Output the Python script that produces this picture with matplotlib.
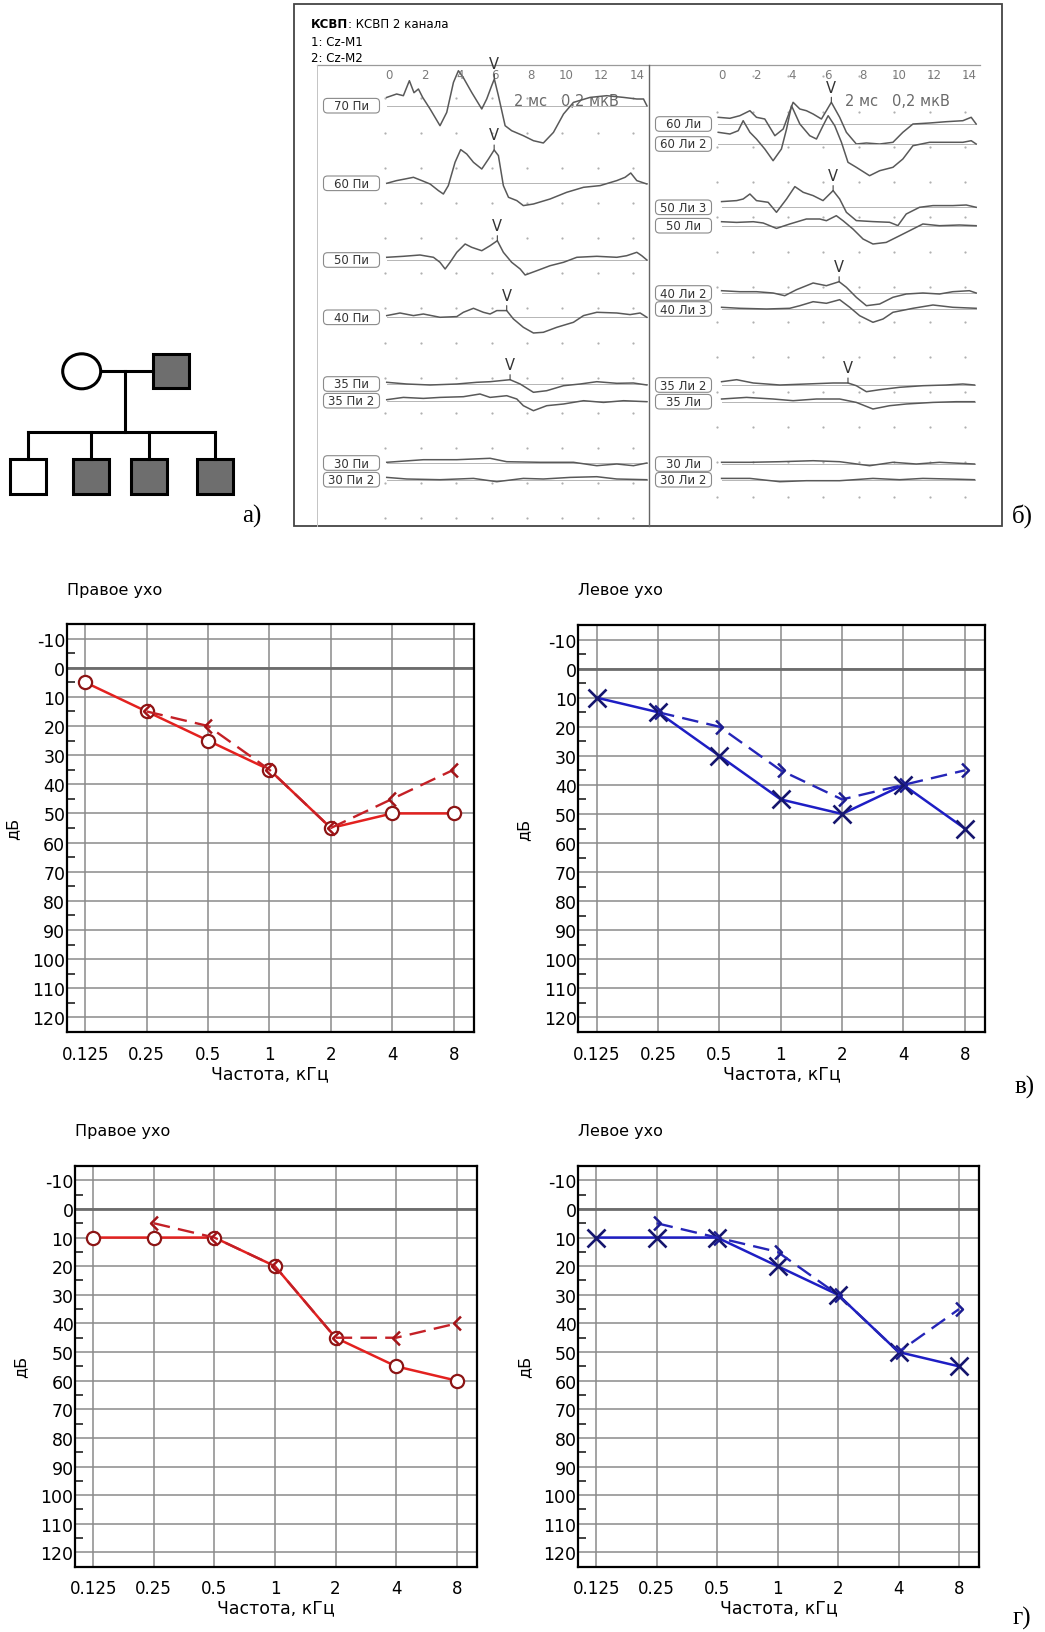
import numpy as np
import matplotlib
matplotlib.use("Agg")
import matplotlib.pyplot as plt
from matplotlib.patches import Rectangle, Ellipse, FancyBboxPatch
from matplotlib.path import Path

plt.rcParams['font.family'] = ['DejaVu Sans']

# ---------- данные: родословная ----------
father_affected = True
mother_affected = False
children_affected = [False, True, True, True]

# ---------- данные: КСВП (время, мс; амплитуда, усл. ед.) ----------
tr_70_pi = [(-0.13, 8.3), (0.43, 11.7), (0.81, 10), (1.15, 25), (1.41, 13), (1.66, 16.7), (1.90, 8.3),
            (2.32, -3.3), (2.88, -20), (3.26, -6.7), (3.64, 23.3), (3.92, 35), (4.20, 28), (4.67, 13.3),
            (5.24, -3.3), (5.52, 6.7), (5.80, 20), (5.95, 26.7), (6.18, 10), (6.56, -20), (6.93, -25),
            (7.59, -30), (8.16, -35), (8.72, -37.3), (9.29, -26.7), (9.86, -8.3), (10.42, 3.3),
            (11.36, 8.3), (12.30, 10), (13.25, 8.3), (14.0, 6.7), (14.38, 6.7), (14.57, 0)]
tr_60_pi = [(-0.13, 0), (0.43, 2.7), (0.90, 4.3), (1.38, 6), (1.85, 2.7), (2.32, -0.7), (2.79, -7.3),
            (3.07, -10.7), (3.35, -2.3), (3.73, 21), (4.05, 33.7), (4.39, 29.3), (4.77, 21), (5.24, 14.3),
            (5.62, 24.3), (5.94, 33.3), (6.18, 27.7), (6.46, -2.3), (6.75, -14), (7.22, -17.3),
            (7.59, -22.3), (8.16, -20.7), (9.10, -15.7), (10.04, -9), (10.99, -4), (11.93, -2.3),
            (12.87, 2.7), (13.34, 6), (13.66, 10.3), (14.0, 2.7), (14.57, -0.7)]
tr_50_pi = [(-0.13, 2.7), (0.81, 3.7), (1.75, 5), (2.51, 2.7), (2.88, -2.3), (3.17, -9), (3.45, -2.3),
            (3.83, 7.7), (4.30, 16), (4.67, 12.7), (5.24, 9.3), (5.71, 14.3), (6.12, 19.3), (6.46, 7.7),
            (6.93, -2.3), (7.41, -9), (7.69, -15), (8.35, -10.7), (9.10, -5.7), (9.86, -2.3),
            (10.61, 2.7), (11.74, 3.7), (12.87, 2.7), (13.43, 4.3), (14.0, 7.7), (14.28, 4.3), (14.57, 0)]
tr_40_pi = [(-0.13, 1.7), (0.62, 4.3), (1.38, 1.7), (1.94, 3.3), (2.88, 0), (3.83, 0.7), (4.20, 5),
            (4.77, 9), (5.33, 5), (5.71, 3.3), (6.09, 6.7), (6.65, 6.7), (7.03, -1.7), (7.59, -10),
            (8.16, -15.7), (8.72, -15), (9.48, -10), (10.42, -5), (10.99, 1.7), (11.74, 5), (12.87, 4.3),
            (13.62, 2.7), (14.19, 4.3), (14.57, 0)]
tr_35_pi = [(-0.13, 1.7), (1.0, 0), (2.32, -1), (3.83, 0), (4.96, 1.7), (5.71, 2.3), (6.27, 3.3),
            (6.84, 4.3), (7.41, 0), (8.16, -8.3), (8.91, -6.7), (9.86, -1.7), (10.80, 0), (11.74, 2.3),
            (12.87, 0.7), (13.81, 1), (14.57, -1)]
tr_35_pi_2 = [(-0.13, 1), (0.81, 3.3), (1.94, 2.3), (2.88, 3.3), (4.20, 4), (5.14, 6.7), (5.71, 3.3),
              (6.65, 5), (7.22, 1.7), (7.59, -5), (8.16, -10), (8.91, -5), (9.86, -3.3), (10.99, 0),
              (12.12, -1.7), (13.25, 0), (14.57, -1)]
tr_30_pi = [(-0.13, 0.7), (1.94, 3.3), (3.83, 3.3), (5.71, 4.7), (6.65, 1.3), (8.54, 0.7), (10.42, 0.7),
            (11.74, -2.7), (12.87, -1), (13.81, -2.7), (14.57, 0)]
tr_30_pi_2 = [(-0.13, 2.3), (1.0, 0.7), (2.88, 0), (4.77, 1.3), (6.09, -2), (7.59, 1.3), (8.72, 0.7),
              (10.23, 2.3), (11.74, 3), (12.87, 0.7), (14.57, 0)]

tr_60_li = [(-0.19, 6.7), (0.47, 5.7), (1.03, 8.3), (1.60, 13.3), (1.97, 6.7), (2.44, 5), (3.01, -11.7),
            (3.48, -5), (4.04, 21.7), (4.42, 15), (4.79, 13.3), (5.17, 10), (5.64, 5), (5.92, 13.3),
            (6.20, 21.7), (6.67, 6.7), (7.05, -8.3), (7.61, -20), (8.18, -19), (8.93, -20), (9.68, -18.3),
            (10.24, -8.3), (10.81, 0), (11.75, 1), (12.69, 2.3), (13.63, 3.3), (14.1, 6.7), (14.38, 0)]
tr_60_li_2 = [(-0.19, 11.7), (0.47, 10), (0.94, 13.3), (1.22, 23.3), (1.60, 11.7), (1.97, 5), (2.44, -5),
              (2.91, -16.7), (3.38, -5), (3.67, 15), (3.95, 38.3), (4.42, 20), (4.98, 8.3), (5.36, 5),
              (5.73, 18.3), (6.02, 28.3), (6.39, 18.3), (6.77, 1.7), (7.14, -18.3), (7.61, -23.3),
              (8.36, -31.7), (8.93, -26.7), (9.68, -23.3), (10.24, -15), (10.81, -1.7), (11.75, 1.7),
              (12.69, 1.7), (13.63, 1.7), (14.1, 3.3), (14.38, 0)]
tr_50_li_3 = [(0, 5.7), (0.85, 6.7), (1.22, 8.3), (1.60, 13.3), (1.97, 6.7), (2.63, 5), (3.10, -5),
              (3.67, 8.3), (4.14, 20.7), (4.61, 15), (5.17, 11.7), (5.73, 6.7), (6.30, 16.7), (6.67, 8.3),
              (7.05, -5), (7.61, -13.3), (8.55, -14.3), (9.49, -15), (9.96, -18.3), (10.43, -6.7),
              (11.18, 0), (11.94, 1.7), (13.06, 1.7), (13.82, 2.3), (14.38, 0)]
tr_50_li = [(0, 4), (0.85, 3.3), (1.79, 4), (2.35, 2.7), (3.10, -2.7), (3.85, 1.7), (4.79, 6.7),
            (5.55, 6.7), (5.92, 5), (6.48, 10), (6.86, 5), (7.42, -3.3), (7.99, -13.3), (8.55, -18.3),
            (9.30, -16.7), (10.06, -10), (10.81, -3.3), (11.37, 1.7), (12.31, 0), (13.44, 0.7), (14.38, 0)]
tr_40_li_2 = [(0, 2.3), (1.03, 1.3), (1.97, 1.3), (2.91, 0), (3.57, -2.7), (4.23, 3.3), (5.17, 10),
              (5.92, 7.3), (6.64, 11.3), (7.05, 5.7), (7.61, -4.3), (8.18, -12.7), (8.93, -11),
              (9.68, -4.3), (10.43, -1), (11.37, 0), (12.31, -1), (13.06, 1.3), (14.0, 2.3), (14.38, 0)]
tr_40_li_3 = [(0, 1.7), (1.03, 0.7), (2.54, 0), (3.85, 0.7), (4.42, 3.3), (5.17, 7.3), (5.92, 5.7),
              (6.67, 9.3), (7.24, 1.7), (7.80, -6.7), (8.55, -13.3), (9.12, -10), (9.68, -3.3),
              (10.81, 0.7), (11.94, 4), (13.06, 1.7), (14.38, 0.7)]
tr_35_li_2 = [(0, 3.3), (0.85, 5.3), (1.79, 2), (3.29, 0), (4.79, 1), (6.30, 2), (7.14, 2), (7.61, -0.7),
              (8.18, -6.7), (8.93, -4.7), (10.06, -2.3), (11.37, -0.7), (12.69, 0), (13.63, 1), (14.29, 0)]
tr_35_li = [(0, 2.7), (1.41, 4.3), (2.91, 2.7), (4.04, 1), (5.36, 2.7), (6.67, 2.7), (7.61, -0.7),
            (8.55, -7.3), (9.49, -4), (10.43, -2.3), (11.94, -0.7), (13.25, 0), (14.29, 0)]
tr_30_li = [(0, 1.7), (1.60, 1.7), (3.29, 2.3), (5.17, 3.3), (6.67, 2.3), (8.36, -1.7), (9.68, 1.7),
            (11.0, 0), (12.31, 1.7), (13.44, 0.7), (14.29, 0)]
tr_30_li_2 = [(0, 1.3), (1.60, 1.3), (3.29, -2), (4.79, -1), (6.67, -1), (8.55, 1.3), (10.06, 0),
              (11.37, 1.3), (12.88, 0.7), (14.29, 0)]

# подпись, кривая, положение базовой линии (px), латентность V (мс) или None
left_traces = [("70 Пи", tr_70_pi, 106.7, 5.95), ("60 Пи", tr_60_pi, 184.3, 5.94),
               ("50 Пи", tr_50_pi, 261.0, 6.12), ("40 Пи", tr_40_pi, 318.3, 6.65),
               ("35 Пи", tr_35_pi, 385.0, 6.84), ("35 Пи 2", tr_35_pi_2, 401.7, None),
               ("30 Пи", tr_30_pi, 464.0, None), ("30 Пи 2", tr_30_pi_2, 480.7, None)]
right_traces = [("60 Ли", tr_60_li, 125.0, 6.20), ("60 Ли 2", tr_60_li_2, 145.0, None),
                ("50 Ли 3", tr_50_li_3, 208.3, 6.30), ("50 Ли", tr_50_li, 226.7, None),
                ("40 Ли 2", tr_40_li_2, 294.0, 6.64), ("40 Ли 3", tr_40_li_3, 310.0, None),
                ("35 Ли 2", tr_35_li_2, 386.0, 7.14), ("35 Ли", tr_35_li, 402.7, None),
                ("30 Ли", tr_30_li, 465.0, None), ("30 Ли 2", tr_30_li_2, 480.7, None)]
time_ticks = [0, 2, 4, 6, 8, 10, 12, 14]

# ---------- данные: аудиограммы ----------
freqs = ['0.125', '0.25', '0.5', '1', '2', '4', '8']
v_right_air = [5, 15, 25, 35, 55, 50, 50]
v_right_bone = [15, 20, 35, 55, 45, 35]
v_left_air = [10, 15, 30, 45, 50, 40, 55]
v_left_bone = [15, 20, 35, 45, 40, 35]
g_right_air = [10, 10, 10, 20, 45, 55, 60]
g_right_bone = [5, 10, 20, 45, 45, 40]
g_left_air = [10, 10, 10, 20, 30, 50, 55]
g_left_bone = [5, 10, 15, 30, 50, 35]

W, H = 1045, 1633
fig = plt.figure(figsize=(W / 100, H / 100), dpi=100)


def px_axes(l, t, r, b):
    return fig.add_axes([l / W, 1 - b / H, (r - l) / W, (b - t) / H])


canvas = px_axes(0, 0, W, H)
canvas.set_xlim(0, W)
canvas.set_ylim(H, 0)
canvas.axis('off')

# ---------- а) родословная ----------
lw = 2.2
fill = '#6e6e6e'
canvas.add_patch(Ellipse((81.7, 372.3), 38, 35, fc=fill if mother_affected else 'white', ec='black', lw=lw))
canvas.add_patch(Rectangle((153.3, 355), 36, 34, fc=fill if father_affected else 'white', ec='black', lw=lw))
canvas.plot([100.7, 153.3], [372.3, 372.3], color='black', lw=lw)
canvas.plot([125, 125], [372.3, 432.7], color='black', lw=lw)
child_x = [28, 90.5, 148.8, 214.5]
canvas.plot([child_x[0], child_x[-1]], [432.7, 432.7], color='black', lw=lw)
for cx, aff in zip(child_x, children_affected):
    canvas.plot([cx, cx], [432.7, 460], color='black', lw=lw)
    canvas.add_patch(Rectangle((cx - 18, 460), 36, 35, fc=fill if aff else 'white', ec='black', lw=lw))

serif = dict(family=['Liberation Serif', 'DejaVu Serif'], fontsize=18, ha='center', va='center')
canvas.text(252, 516, 'а)', **serif)
canvas.text(1022, 516, 'б)', **serif)
canvas.text(1025, 1087, 'в)', **serif)
canvas.text(1022, 1618, 'г)', **serif)

# ---------- б) КСВП ----------
canvas.add_patch(Rectangle((294, 5), 708, 522, fill=False, ec='#444444', lw=1.3))
canvas.plot([316.7, 980], [65.5, 65.5], color='#9a9a9a', lw=0.9)
canvas.plot([316.7, 316.7], [65.5, 527], color='#c4c4c4', lw=0.7)
canvas.plot([649, 649], [65.5, 527], color='#666666', lw=1.0)

hdr = canvas.text(310.7, 25, "КСВП", fontsize=8.5, fontweight='bold', va='center')
canvas.annotate(": КСВП 2 канала", xy=(1, 0.5), xycoords=hdr, va='center', fontsize=8.5)
canvas.text(310.7, 43, "1: Cz-M1", fontsize=8.5, va='center')
canvas.text(310.7, 58, "2: Cz-M2", fontsize=8.5, va='center')
canvas.text(514, 101, "2 мс   0,2 мкВ", fontsize=10.5, color='#6a6a6a', va='center')
canvas.text(845, 102, "2 мс   0,2 мкВ", fontsize=10.5, color='#6a6a6a', va='center')


def abr_panel(l, r, xlim, traces, box_x, dot_rows, dot_shift, tick_dots):
    ax = px_axes(l, 5, r, 527)
    ax.set_xlim(*xlim)
    ax.set_ylim(527, 5)
    ax.axis('off')
    dx = np.array(time_ticks) + dot_shift
    for y in dot_rows:
        ax.plot(dx, [y] * len(dx), 'o', ms=1.6, color='#b0b0b0', mew=0)
    if tick_dots:
        ax.plot(dx[1:], [77] * (len(dx) - 1), 'o', ms=1.6, color='#b0b0b0', mew=0)
    for t in time_ticks:
        ax.text(t, 75.5, str(t), ha='center', va='center', fontsize=8.5, color='#7a7a7a')
    for name, tr, base, lat in traces:
        t = np.array([p[0] for p in tr])
        a = np.array([p[1] for p in tr])
        ax.plot([t[0], t[-1]], [base, base], color='#b5b5b5', lw=0.7)
        ax.plot(t, base - a, color='#595959', lw=1.1, solid_joinstyle='round')
        canvas.add_patch(FancyBboxPatch((box_x, base - 7.3), 56, 14.6,
                                        boxstyle='round,pad=0,rounding_size=4',
                                        fc='white', ec='#8a8a8a', lw=0.8))
        canvas.text(box_x + 28, base, name, ha='center', va='center', fontsize=8.5, color='#333333')
        if lat is not None:
            yv = base - np.interp(lat, t, a)
            ax.annotate("V", xy=(lat, yv), xytext=(0, 11), textcoords='offset points',
                        ha='center', va='center', fontsize=10.5, color='#333333',
                        arrowprops=dict(arrowstyle='-', lw=0.8, color='#444444', shrinkA=4, shrinkB=0))


abr_panel(294, 649, (-5.37, 14.69), left_traces, 323.5, np.arange(99, 520, 35), -0.2, False)
abr_panel(649, 1002, (-4.1, 15.84), right_traces, 655.5, np.arange(113, 500, 35), -0.25, True)

# ---------- в), г) аудиограммы ----------
chev_left = Path([(0.5, 1), (-0.5, 0), (0.5, -1)], [Path.MOVETO, Path.LINETO, Path.LINETO])
chev_right = Path([(-0.5, 1), (0.5, 0), (-0.5, -1)], [Path.MOVETO, Path.LINETO, Path.LINETO])


def audiogram(box, title, air, bone, right_ear):
    ax = px_axes(*box)
    x = np.arange(len(freqs))
    ax.set_xlim(-0.3, 6.33)
    ax.set_ylim(125, -15)
    ax.set_xticks(x)
    ax.set_xticklabels(freqs)
    yt = np.arange(-10, 121, 10)
    ax.set_yticks(yt)
    ax.set_yticklabels([str(v) for v in yt])
    ax.set_yticks(np.arange(-5, 126, 10), minor=True)
    ax.grid(True, which='major', color='#8a8a8a', lw=1.1)
    ax.axhline(0, color='#6c6c6c', lw=2.0)
    ax.set_axisbelow(True)
    ax.tick_params(axis='x', length=0, pad=9, labelsize=12)
    ax.tick_params(axis='y', which='major', length=0, pad=1, labelsize=12.5)
    ax.tick_params(axis='y', which='minor', direction='in', length=5.5, width=1.3, color='#333333')
    for s in ax.spines.values():
        s.set_color('black')
        s.set_linewidth(1.6)
    if right_ear:
        c_line, c_mark, c_dash = '#e3211f', '#8c1414', '#c42026'
        ax.plot(x, air, '-', color=c_line, lw=1.8, marker='o', ms=9.5, mfc='white',
                mec=c_mark, mew=1.6, zorder=3)
        ax.plot(x[1:], bone, '--', dashes=(7, 3.5), color=c_dash, lw=1.7, marker=chev_left,
                ms=10, mfc='none', mec='#a31418', mew=1.8, zorder=4)
    else:
        c_line, c_mark, c_dash = '#1e1ec4', '#16166e', '#2525b8'
        ax.plot(x, air, '-', color=c_line, lw=1.8, marker='x', ms=13, mec=c_mark, mew=1.9, zorder=3)
        ax.plot(x[1:], bone, '--', dashes=(7, 3.5), color=c_dash, lw=1.7, marker=chev_right,
                ms=10, mfc='none', mec='#1c1c90', mew=1.8, zorder=4)
    ax.text(0, 1 + 35 / (box[3] - box[1]), title, transform=ax.transAxes, ha='left', va='center',
            fontsize=11.5)
    ax.set_ylabel('дБ', fontsize=11.5)
    ax.yaxis.set_label_coords(-0.115, 0.5)
    ax.set_xlabel('Частота, кГц', fontsize=12.5, labelpad=1)
    return ax


audiogram((66.7, 625, 474, 1033), 'Правое ухо', v_right_air, v_right_bone, True)
audiogram((578.3, 626, 985, 1033), 'Левое ухо', v_left_air, v_left_bone, False)
audiogram((75, 1167, 476.7, 1567.7), 'Правое ухо', g_right_air, g_right_bone, True)
audiogram((578, 1167, 979, 1567.7), 'Левое ухо', g_left_air, g_left_bone, False)

fig.savefig('out.png', dpi=100, facecolor='white')
